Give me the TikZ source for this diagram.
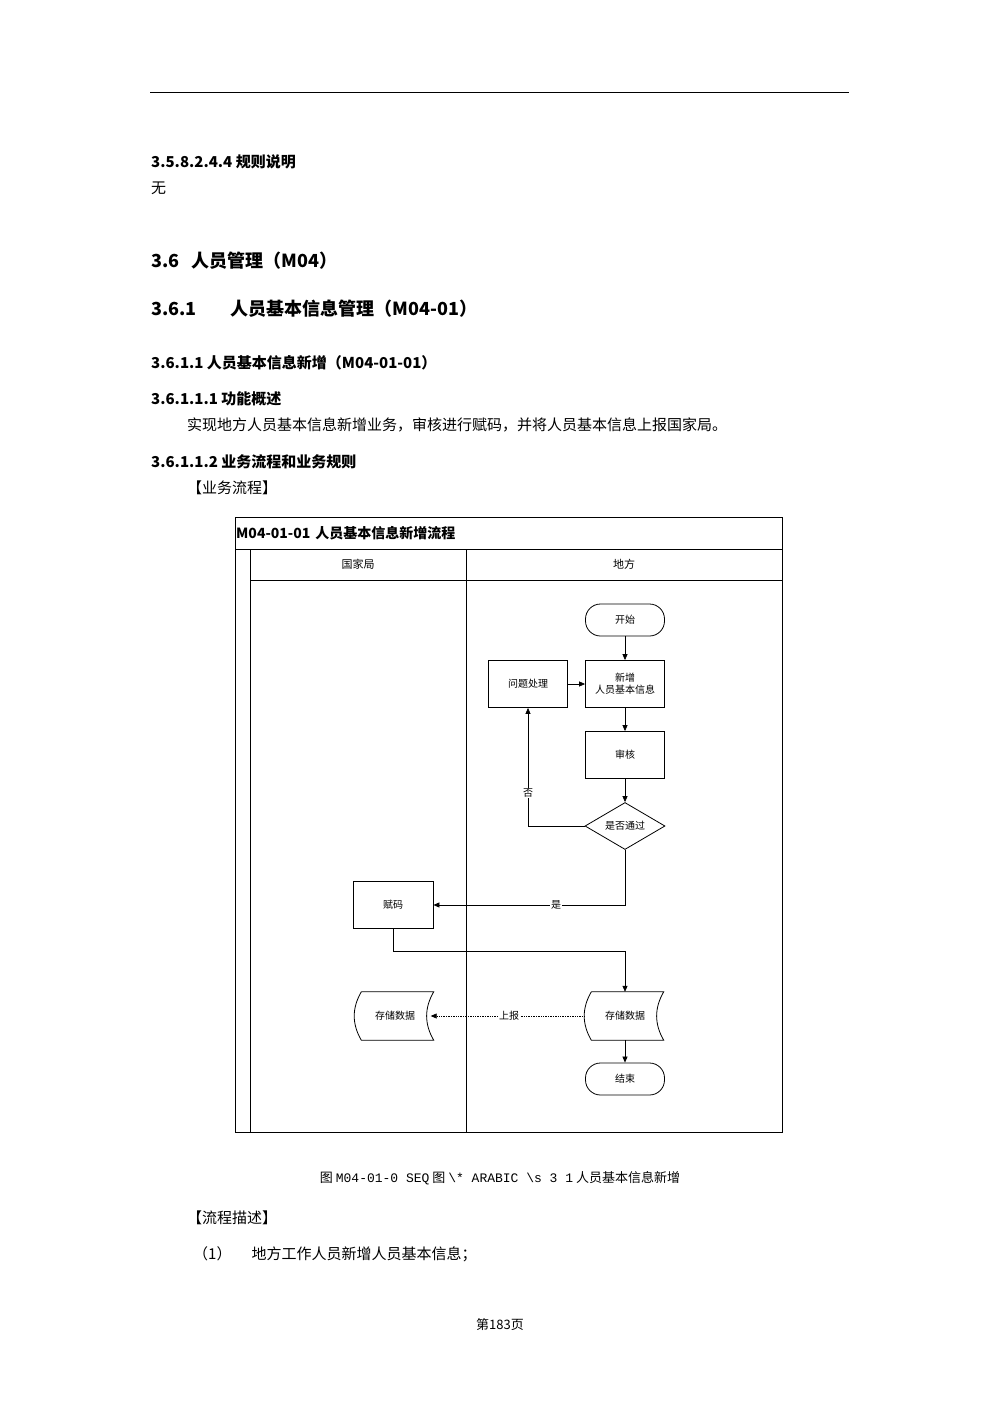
\documentclass[tikz,border=0pt]{standalone}
\usepackage{fontspec}
\setmainfont{Noto Sans CJK SC}
\setmonofont{Liberation Mono}
\usetikzlibrary{shapes.geometric,arrows.meta}
\begin{document}
\begin{tikzpicture}[x=1pt,y=-1pt,
  txt/.style={anchor=west,inner sep=0pt,font=\fontsize{15}{15}\selectfont},
  hd/.style={anchor=west,inner sep=0pt,font=\fontsize{15}{15}\selectfont\bfseries},
  box/.style={draw,line width=0.8pt,minimum width=79pt,minimum height=47pt,font=\fontsize{10}{12}\selectfont,align=center},
  term/.style={draw,line width=0.8pt,rounded corners=15pt,minimum width=79pt,minimum height=32pt,font=\fontsize{10}{12}\selectfont},
  dec/.style={draw,line width=0.8pt,diamond,aspect=1.7,minimum width=80pt,minimum height=47pt,inner sep=0pt,font=\fontsize{10}{12}\selectfont},
  store/.style={minimum width=77pt,minimum height=48pt,font=\fontsize{10}{12}\selectfont},
  arr/.style={-{Triangle[length=6pt,width=5pt]},line width=0.7pt},
  lbl/.style={fill=white,inner sep=1pt,font=\fontsize{10}{12}\selectfont}]
\useasboundingbox (0,0) rectangle (1000,1415);
\fill[white] (0,0) rectangle (1000,1415);
\draw[line width=1pt] (150,93) -- (849,93);
\node[hd] (h1) at (151,162) {3.5.8.2.4.4 规则说明};
\node[txt] (t1) at (151,188) {无};
\node[anchor=west,inner sep=0pt,font=\fontsize{18}{18}\selectfont\bfseries] (h2) at (151,261) {3.6\hspace{12pt}人员管理（M04）};
\node[anchor=west,inner sep=0pt,font=\fontsize{18}{18}\selectfont\bfseries] (h3) at (151,309) {3.6.1\hspace{34pt}人员基本信息管理（M04-01）};
\node[hd] (h4) at (151,363) {3.6.1.1 人员基本信息新增（M04-01-01）};
\node[hd] (h5) at (151,399) {3.6.1.1.1 功能概述};
\node[txt] (t2) at (187,425) {实现地方人员基本信息新增业务，审核进行赋码，并将人员基本信息上报国家局。};
\node[hd] (h6) at (151,462) {3.6.1.1.2 业务流程和业务规则};
\node[txt] (t3) at (187,488) {【业务流程】};
% frame
\draw[line width=1pt] (235,517) rectangle (782,1132);
\draw[line width=1pt] (235,549) -- (782,549);
\draw[line width=1pt] (250,549) -- (250,1132);
\draw[line width=1pt] (250,580) -- (782,580);
\draw[line width=1pt] (466,549) -- (466,1132);
\node[anchor=west,inner sep=0pt,font=\fontsize{14}{14}\selectfont\bfseries] (title) at (236,533) {M04-01-01\hspace{5pt}人员基本信息新增流程};
\node[font=\fontsize{11}{11}\selectfont] (l1) at (358,564) {国家局};
\node[font=\fontsize{11}{11}\selectfont] (l2) at (624,564) {地方};
% nodes
\node[term] (start) at (625,620) {开始};
\node[box] (new) at (625,684) {新增\\人员基本信息};
\node[box] (fix) at (528,684) {问题处理};
\node[box] (aud) at (625,755) {审核};
\node[dec] (ok) at (625,826) {是否通过};
\node[box,minimum width=80pt] (code) at (393,905) {赋码};
\node[store] (sr) at (625,1016) {存储数据};
\node[store] (sl) at (395,1016) {存储数据};
\node[term] (end) at (625,1079) {结束};
\foreach \s in {sr,sl}{
  \draw[line width=0.8pt] ([xshift=5pt]\s.north west) -- (\s.north east)
    to[out=240,in=120] (\s.south east) -- ([xshift=5pt]\s.south west)
    to[out=120,in=240] ([xshift=5pt]\s.north west);
}
% connectors
\draw[arr] (start) -- (new);
\draw[arr] (fix) -- (new);
\draw[arr] (new) -- (aud);
\draw[arr] (aud) -- (ok);
\draw[arr] (ok.west) -| node[pos=0.64,lbl]{否} (fix.south);
\draw[arr] (ok.south) |- node[pos=0.68,lbl]{是} (code.east);
\coordinate (m) at (393,951);
\draw[arr] (code.south) -- (m) -| (sr.north);
\draw[arr,densely dotted,line width=0.6pt] ([xshift=-2pt]sr.west) -- node[pos=0.49,lbl]{上报} ([xshift=-3pt]sl.east);
\draw[arr] (sr) -- (end);
% caption and after
\node[font=\fontsize{13}{13}\selectfont] (cap) at (500,1178) {图 \texttt{M04-01-0 SEQ} 图 \texttt{\textbackslash* ARABIC \textbackslash s 3 1} 人员基本信息新增};
\node[txt] (t4) at (187,1218) {【流程描述】};
\node[txt] (t5) at (193,1254) {（1）\hspace{20pt}地方工作人员新增人员基本信息；};
\node[font=\fontsize{13}{13}\selectfont] (pg) at (500,1325) {第183页};
\end{tikzpicture}
\end{document}
